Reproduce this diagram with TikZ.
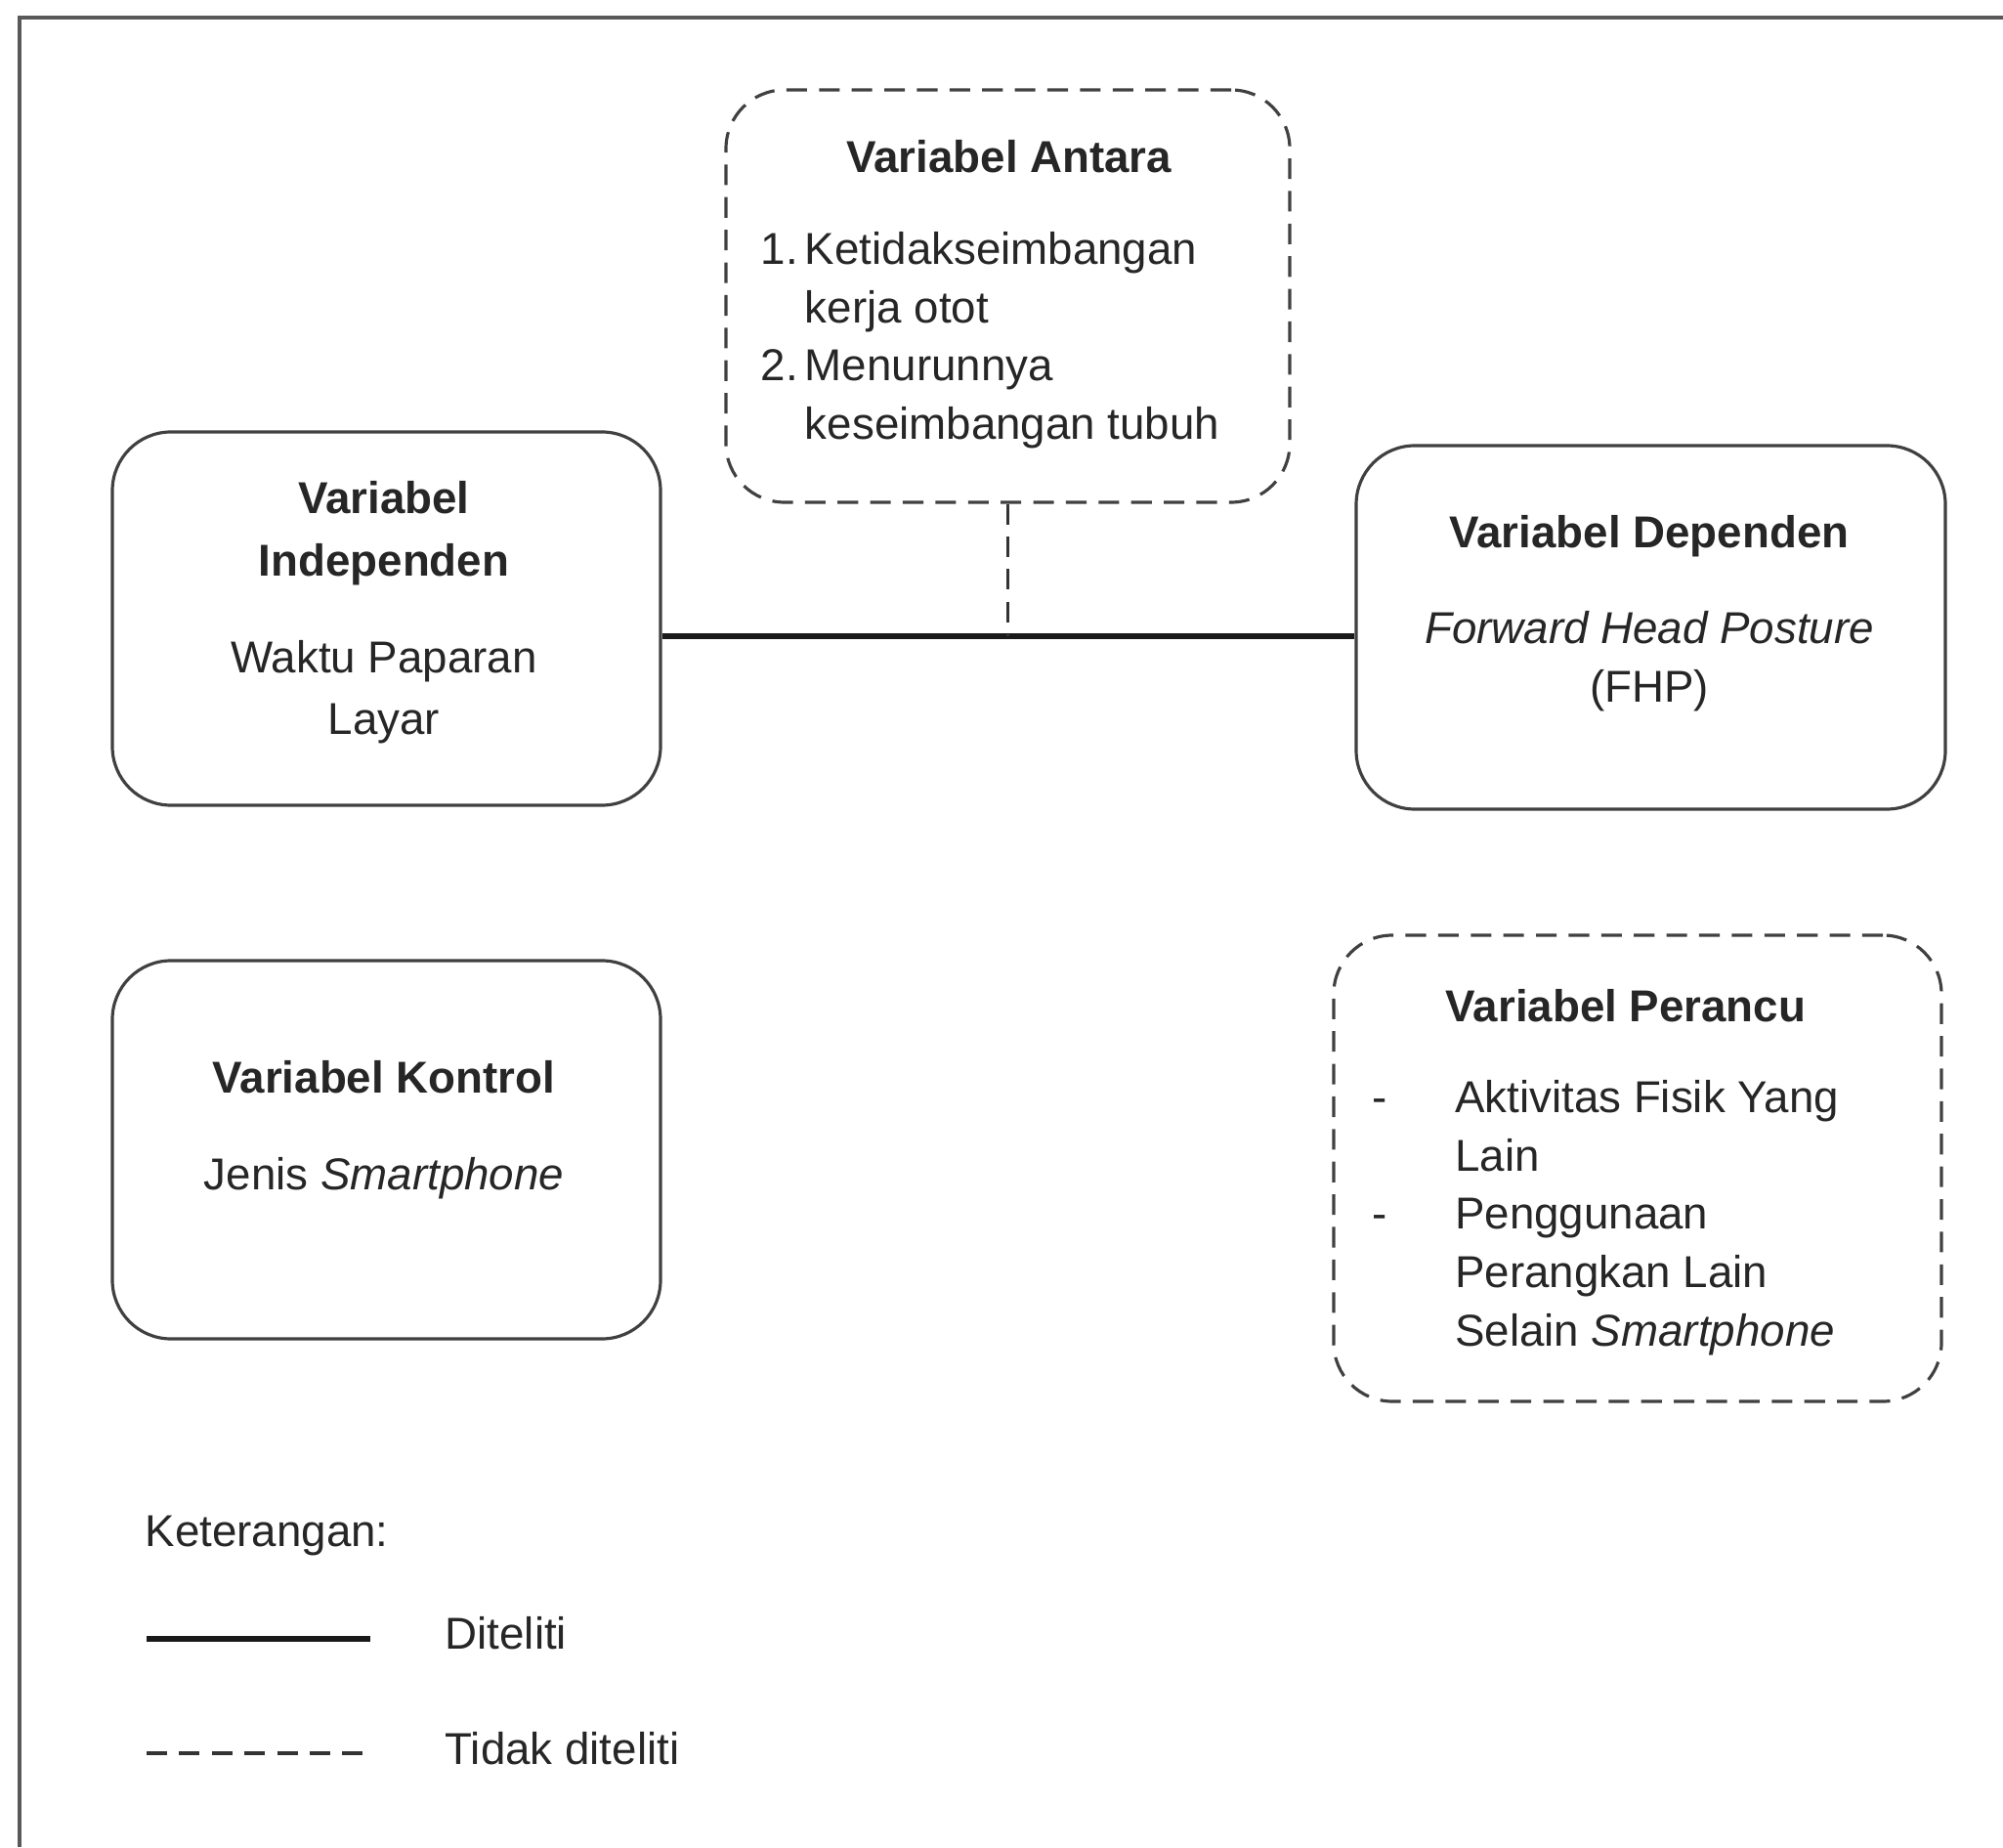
\documentclass[tikz,border=0pt]{standalone}
\usepackage{fontspec}
\setmainfont{Liberation Sans}
\usepackage{tikz}
\usetikzlibrary{positioning}

\begin{document}
\begin{tikzpicture}[
    varbox/.style={draw=black!75, line width=0.9pt, rounded corners=0.6cm, inner sep=0pt},
    varboxdash/.style={varbox, dash pattern=on 6pt off 3.5pt},
    txt/.style={align=center, text=black!85, font=\fontsize{13}{17}\selectfont, inner sep=0pt},
    studied/.style={line width=1.5pt, black!90},
    notstudied/.style={line width=1pt, black!80, dash pattern=on 6pt off 3.5pt}
  ]
  \useasboundingbox (0,0) rectangle (20.5,18.9);
  \draw[line width=1.4pt, black!65] (0.2,0) -- (0.2,18.72) -- (20.5,18.72);

  % kotak variabel
  \node[varbox, minimum width=5.61cm, minimum height=3.82cm] (indep) at (3.955,12.57) {};
  \node[varboxdash, minimum width=5.77cm, minimum height=4.22cm] (antara) at (10.315,15.87) {};
  \node[varbox, minimum width=6.03cm, minimum height=3.72cm] (depend) at (16.895,12.48) {};
  \node[varbox, minimum width=5.61cm, minimum height=3.87cm] (kontrol) at (3.955,7.135) {};
  \node[varboxdash, minimum width=6.22cm, minimum height=4.77cm] (perancu) at (16.76,6.945) {};

  \node[txt] (indepT) at (3.93,12.63)
    {\textbf{Variabel}\\[1.2pt]\textbf{Independen}\\[11pt]Waktu Paparan\\[1pt]Layar};
  \node[txt] (antaraT) at (10.33,17.30) {\textbf{Variabel Antara}};
  \node[txt] (antaraL) at (10.135,15.42)
    {\begin{tabular}{@{}r@{\hspace{2pt}}l@{}}
      1. & Ketidakseimbangan\\
         & kerja otot\\
      2. & Menurunnya\\
         & keseimbangan tubuh
    \end{tabular}};
  \node[txt] (dependT) at (16.88,12.625)
    {\textbf{Variabel Dependen}\\[11pt]\textit{Forward Head Posture}\\(FHP)};
  \node[txt] (kontrolT) at (3.93,7.34)
    {\textbf{Variabel Kontrol}\\[11pt]Jenis \textit{Smartphone}};
  \node[txt] (perancuT) at (16.64,8.61) {\textbf{Variabel Perancu}};
  \node[txt] (perancuL) at (16.43,6.44)
    {\begin{tabular}{@{}l@{\hspace{0.7cm}}l@{}}
      - & Aktivitas Fisik Yang\\
        & Lain\\
      - & Penggunaan\\
        & Perangkan Lain\\
        & Selain \textit{Smartphone}
    \end{tabular}};

  % hubungan
  \coordinate (junc) at (10.315,12.39);
  \draw[studied] (indep.east |- junc) -- (depend.west |- junc);
  \draw[notstudied] (antara.south) -- (junc);

  % keterangan
  \node[txt, anchor=west] (ket) at (1.48,3.185) {Keterangan:};
  \coordinate (solidA) at (1.50,2.13);
  \coordinate (solidB) at (3.79,2.13);
  \coordinate (dashA) at (1.50,0.96);
  \coordinate (dashB) at (3.73,0.96);
  \draw[studied] (solidA) -- (solidB);
  \draw[notstudied] (dashA) -- (dashB);
  \node[txt, anchor=west] (ketSolid) at (4.55,2.19) {Diteliti};
  \node[txt, anchor=west] (ketDash) at (4.55,1.01) {Tidak diteliti};
\end{tikzpicture}
\end{document}
